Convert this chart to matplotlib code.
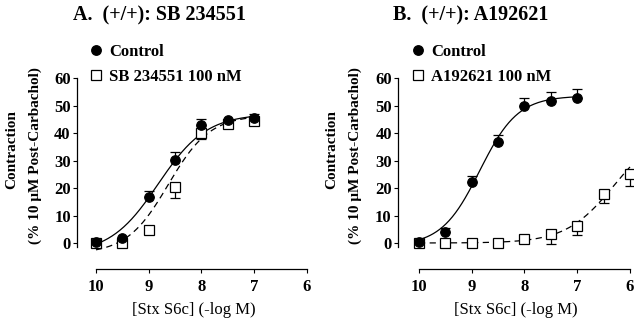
import numpy as np
import matplotlib
matplotlib.use("Agg")
import matplotlib.pyplot as plt
from matplotlib.lines import Line2D

plt.rcParams["font.family"] = ["Liberation Serif", "DejaVu Serif"]

# panel A: Stx S6c response, control vs SB 234551 100 nM
x_a = [10, 9.5, 9, 8.5, 8, 7.5, 7]
ctrl_a = [0.3, 1.7, 16.7, 30.2, 42.9, 44.7, 45.4]
ctrl_a_err = [0, 0, 2.3, 3.0, 2.3, 0, 1.4]
sb = [0, 0, 4.7, 20.4, 40.0, 43.3, 44.5]
sb_err = [0, 0, 0, 4.0, 2.2, 0, 1.6]

# panel B: control vs A192621 100 nM
x_b_ctrl = [10, 9.5, 9, 8.5, 8, 7.5, 7]
ctrl_b = [0.5, 4.0, 22.2, 36.7, 49.8, 51.6, 52.7]
ctrl_b_err = [0, 1.5, 2.2, 2.6, 2.9, 3.4, 3.3]
x_b_drug = [10, 9.5, 9, 8.5, 8, 7.5, 7, 6.5, 6]
a19 = [0, 0, 0, 0, 1.5, 3.3, 6.2, 17.8, 25.1]
a19_err = [0, 0, 0, 0, 0, 3.7, 3.3, 3.3, 4.4]

# fitted curves: bottom, top, pEC50, hill slope
fit_ctrl_a = (-4, 47, 8.82, 0.95)
fit_sb = (-4, 46.5, 8.63, 1.1)
fit_ctrl_b = (-1, 53.5, 8.85, 1.2)
fit_a19 = (0, 42, 6.3, 0.95)

x_ticks = [10, 9, 8, 7, 6]
y_ticks = [0, 10, 20, 30, 40, 50, 60]

W, H = 640, 326
fig = plt.figure(figsize=(W / 100, H / 100), dpi=100)


def hill(x, p):
    bottom, top, p50, h = p
    return bottom + (top - bottom) / (1 + 10 ** ((x - p50) * h))


def make_axes(left, right, top, bottom):
    return fig.add_axes([left / W, 1 - bottom / H, (right - left) / W, (bottom - top) / H])


def style_axes(ax):
    for s in ["top", "right"]:
        ax.spines[s].set_visible(False)
    ax.spines["left"].set_bounds(-1.5, 60)
    ax.spines["bottom"].set_bounds(10, 6)
    for s in ["left", "bottom"]:
        ax.spines[s].set_linewidth(0.9)
    ax.set_ylim(-9.45, 61.1)
    ax.set_xticks(x_ticks)
    ax.set_yticks(y_ticks)
    ax.tick_params(direction="out", length=3, width=0.8, labelsize=12)
    ax.tick_params(axis="x", pad=4)
    ax.tick_params(axis="y", pad=1.5)
    for lab in ax.get_xticklabels() + ax.get_yticklabels():
        lab.set_fontweight("bold")
    ax.set_xlabel("[Stx S6c] (-log M)", fontsize=12, labelpad=5)


def draw_set(ax, x, y, err, fit, x_end, filled, dashed, up):
    xs = np.linspace(10, x_end, 200)
    ax.plot(xs, hill(xs, fit), color="black", lw=0.9,
            linestyle=(0, (5, 3.5)) if dashed else "-", zorder=2)
    zeros = [0] * len(err)
    yerr = [zeros, err] if up else [err, zeros]
    ax.errorbar(x, y, yerr=yerr, fmt="none", ecolor="black", elinewidth=0.9,
                capsize=3.3, capthick=0.9, zorder=3)
    ax.plot(x, y, linestyle="none", marker="o" if filled else "s", ms=6.8,
            mfc="black" if filled else "white", mec="black", mew=0.9, zorder=4)


def legend_for(label2, x0):
    handles = [Line2D([], [], linestyle="none", marker="o", ms=6.8, mfc="black", mec="black"),
               Line2D([], [], linestyle="none", marker="s", ms=6.8, mfc="white", mec="black", mew=0.9)]
    fig.legend(handles, ["Control", label2], loc="upper left",
               bbox_to_anchor=(x0 / W, 1 - 44 / H), frameon=False, borderpad=0,
               borderaxespad=0, handlelength=0.8, handletextpad=0.4, labelspacing=0.55,
               prop={"size": 12, "weight": "bold"})


def y_label(x0):
    fig.text(x0 / W, 1 - 150 / H, "Contraction", rotation=90, ha="center", va="center",
             fontsize=11, fontweight="bold")
    fig.text((x0 + 23) / W, 1 - 156 / H, "(% 10 \u03bcM Post-Carbachol)", rotation=90,
             ha="center", va="center", fontsize=11, fontweight="bold")


# panel A
ax_a = make_axes(77, 310, 75, 269)
ax_a.set_xlim(10.36, 5.943)
draw_set(ax_a, x_a, sb, sb_err, fit_sb, 7, False, True, False)
draw_set(ax_a, x_a, ctrl_a, ctrl_a_err, fit_ctrl_a, 7, True, False, True)
style_axes(ax_a)
legend_for("SB 234551 100 nM", 89)
fig.text(159 / W, 1 - 15 / H, "A.  (+/+): SB 234551", ha="center", va="center",
         fontsize=14.5, fontweight="bold")
y_label(12)

# panel B
ax_b = make_axes(398, 633, 75, 269)
ax_b.set_xlim(10.398, 5.943)
draw_set(ax_b, x_b_drug, a19, a19_err, fit_a19, 6, False, True, False)
draw_set(ax_b, x_b_ctrl, ctrl_b, ctrl_b_err, fit_ctrl_b, 7, True, False, True)
style_axes(ax_b)
legend_for("A192621 100 nM", 411)
fig.text(471 / W, 1 - 15 / H, "B.  (+/+): A192621", ha="center", va="center",
         fontsize=14.5, fontweight="bold")
y_label(332)

fig.savefig("out.png", dpi=100)
